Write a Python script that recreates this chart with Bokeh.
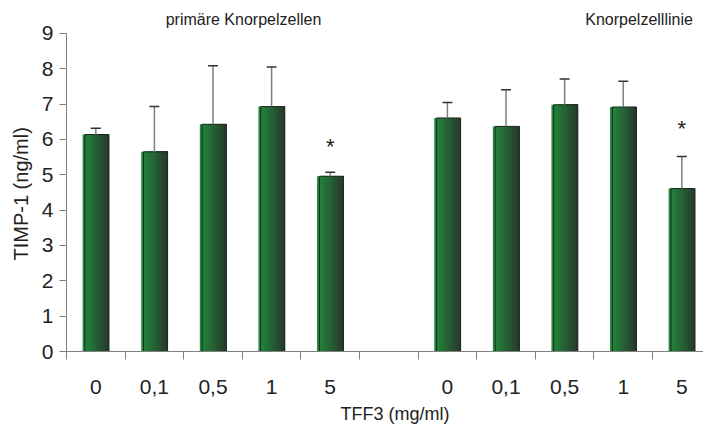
from bokeh.plotting import figure
from bokeh.models import Range1d, FixedTicker, LinearAxis, Label, Title
from bokeh.core.properties import value
from bokeh.embed import file_html
from bokeh.resources import INLINE

# ---- data ----
doses = ["0", "0,1", "0,5", "1", "5"]
primary_mean = [6.14, 5.65, 6.43, 6.93, 4.96]
primary_sd = [0.18, 1.28, 1.66, 1.12, 0.11]
line_mean = [6.61, 6.37, 6.98, 6.92, 4.61]
line_sd = [0.44, 1.04, 0.73, 0.73, 0.91]
star_primary = [None, None, None, None, 5.81]
star_line = [None, None, None, None, 6.30]
group_titles = ["primäre Knorpelzellen", "Knorpelzelllinie"]
x_title = "TFF3 (mg/ml)"
y_title = "TIMP-1 (ng/ml)"
y_ticks = list(range(0, 10))

FONT = "Liberation Sans"
TXT = "#222222"

n = len(doses)
x_primary = [i + 0.5 for i in range(n)]
x_line = [n + 1 + i + 0.5 for i in range(n)]
xs = x_primary + x_line
means = primary_mean + line_mean
sds = primary_sd + line_sd
stars = star_primary + star_line
labels_all = doses + doses

x_end = 10.87
p = figure(width=703, height=434, output_backend="svg", toolbar_location=None,
           x_range=Range1d(0, x_end), y_range=Range1d(0, 9.65),
           min_border_left=66, min_border_right=0, min_border_top=10, min_border_bottom=83)
p.outline_line_color = None
p.xgrid.grid_line_color = None
p.ygrid.grid_line_color = None
p.background_fill_color = "white"
p.xaxis.visible = False

# y axis
ya = p.yaxis[0]
ya.ticker = FixedTicker(ticks=y_ticks)
ya.bounds = (0, 9)
ya.axis_line_color = "#808080"
ya.major_tick_line_color = "#808080"
ya.major_tick_out = 7
ya.major_tick_in = 0
ya.minor_tick_line_color = None
ya.major_label_standoff = 6
ya.major_label_text_font = FONT
ya.major_label_text_font_size = "21px"
ya.major_label_text_color = TXT

# y title (placed along the axis, starting near the bottom)
p.add_layout(Title(text=y_title, align="left", offset=91, vertical_align="middle",
                   standoff=12, text_font=FONT, text_font_size="20px",
                   text_font_style="normal", text_color=TXT), "left")

# x axis: labels at bar centres, ticks (minor) at slot boundaries
xa = LinearAxis(ticker=FixedTicker(ticks=xs, minor_ticks=list(range(0, 2 * n + 1))))
xa.bounds = (0, x_end)
xa.major_label_overrides = {x: l for x, l in zip(xs, labels_all)}
xa.axis_line_color = "#808080"
xa.major_tick_line_color = None
xa.major_tick_out = 8
xa.major_tick_in = 0
xa.minor_tick_line_color = "#808080"
xa.minor_tick_out = 8
xa.minor_tick_in = 0
xa.major_label_standoff = 20
xa.major_label_text_font = FONT
xa.major_label_text_font_size = "21px"
xa.major_label_text_color = TXT
p.add_layout(xa, "below")

# x title
p.add_layout(Title(text=x_title, align="left", offset=274, vertical_align="top",
                   standoff=14, text_font=FONT, text_font_size="18px",
                   text_font_style="normal", text_color=TXT), "below")

# bars with horizontal gradient (overlapping strips, no seams)
bw = 0.45
nstrip = 16
c0 = (0x22, 0x8a, 0x3c)
c1 = (0x27, 0x3a, 0x2c)
sw = bw / nstrip
for k in range(nstrip):
    t = k / (nstrip - 1)
    col = "#%02x%02x%02x" % tuple(int(round(a + (b - a) * t)) for a, b in zip(c0, c1))
    p.quad(left=[x - bw / 2 + sw * k for x in xs], right=[x + bw / 2 for x in xs],
           top=means, bottom=0, fill_color=col, line_color=None)

# outline (slightly inset on the left)
inset = 0.04
p.vbar(x=[x + inset / 2 for x in xs], top=means, bottom=0, width=bw - inset,
       fill_color=None, line_color="#1c2a1f", line_width=1)

# error bars (upper only)
tops = [m + s for m, s in zip(means, sds)]
p.segment(x0=xs, y0=means, x1=xs, y1=tops, line_color="#7f7f7f", line_width=1.5)
cap = 0.085
p.segment(x0=[x - cap for x in xs], y0=tops, x1=[x + cap for x in xs], y1=tops,
          line_color="#333333", line_width=1.5)

# significance stars
sx = [x for x, s in zip(xs, stars) if s is not None]
sy = [s for s in stars if s is not None]
p.text(x=sx, y=sy, text=["*"] * len(sx), text_align="center", text_baseline="middle",
       text_font=value(FONT), text_font_size="22px", text_color=TXT)

# group titles
p.add_layout(Label(x=3.02, y=9.64, text=group_titles[0], text_align="center",
                   text_baseline="top", text_font=FONT, text_font_size="16px",
                   text_color=TXT))
p.add_layout(Label(x=9.77, y=9.64, text=group_titles[1], text_align="center",
                   text_baseline="top", text_font=FONT, text_font_size="16px",
                   text_color=TXT))

open("out.html", "w").write(file_html(p, INLINE))
